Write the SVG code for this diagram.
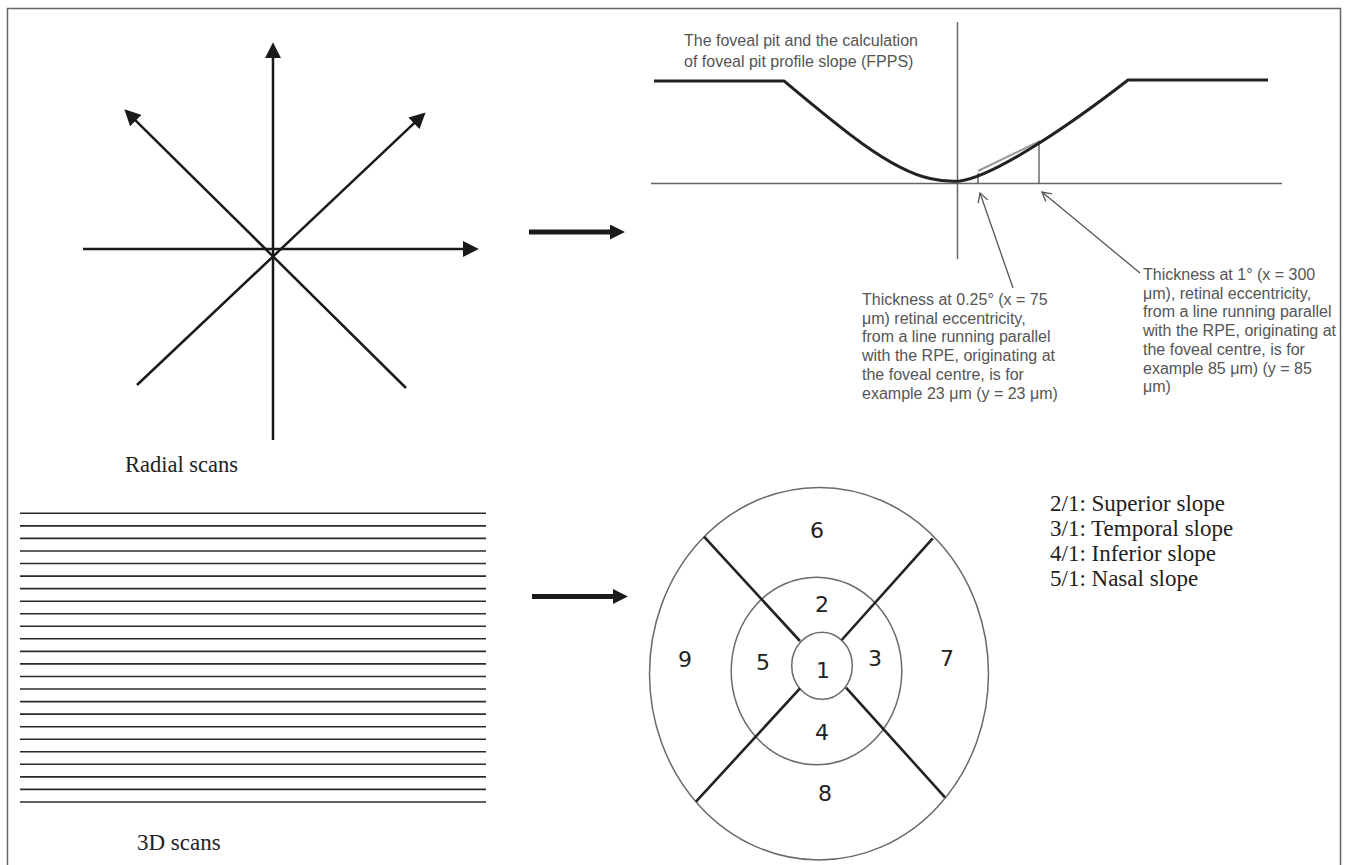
<svg xmlns="http://www.w3.org/2000/svg" width="1346" height="865" viewBox="0 0 1346 865">
<style>
.frame{fill:none;stroke:#666;stroke-width:1.5}
.ray{stroke:#1a1a1a;stroke-width:2.5;fill:none}
.scan{stroke:#2a2a2a;stroke-width:1.6}
.big{stroke:#1a1a1a;stroke-width:5;fill:none}
.axis{stroke:#666;stroke-width:1.5;fill:none}
.curve{stroke:#222;stroke-width:3;fill:none;stroke-linejoin:round}
.thin{stroke:#555;stroke-width:1.3;fill:none}
.ring{stroke:#6a6a6a;stroke-width:1.5;fill:none}
.div{stroke:#222;stroke-width:2.6}
.serif{font-family:"Liberation Serif","Times New Roman",serif;fill:#222}
.sans{font-family:"Liberation Sans",Arial,sans-serif;font-size:16px;fill:#555}
.num{font-family:"DejaVu Sans","Liberation Sans",sans-serif;font-size:22px;fill:#222;text-anchor:middle}
</style>
<defs>
<marker id="tri" markerUnits="userSpaceOnUse" markerWidth="16" markerHeight="16" viewBox="0 0 15 15" refX="2" refY="7.5" orient="auto">
<path d="M0,0 L15,7.5 L0,15 z" fill="#1a1a1a"/>
</marker>
<marker id="bigtri" markerUnits="userSpaceOnUse" markerWidth="15" markerHeight="15" viewBox="0 0 14 14" refX="1" refY="7" orient="auto">
<path d="M0,0 L14,7 L0,14 z" fill="#1a1a1a"/>
</marker>
<marker id="open" markerUnits="userSpaceOnUse" markerWidth="12" markerHeight="14" viewBox="-1 -7 12 14" refX="0" refY="0" orient="auto">
<path d="M9,-5 L0,0 L9,5" fill="none" stroke="#555" stroke-width="1.3"/>
</marker>
</defs>

<path class="frame" d="M7.5,865 L7.5,8.5 L1340.5,8.5 L1340.5,865"/>

<g id="radial-scans">
<line class="ray" x1="273" y1="440" x2="273" y2="56" marker-end="url(#tri)"/>
<line class="ray" x1="83" y1="249" x2="465" y2="249" marker-end="url(#tri)"/>
<line class="ray" x1="406" y1="388" x2="134.2" y2="119.1" marker-end="url(#tri)"/>
<line class="ray" x1="137" y1="385" x2="415.5" y2="121.9" marker-end="url(#tri)"/>
<text class="serif" x="125" y="472" font-size="22.5">Radial scans</text>
</g>

<g id="3d-scans">
<g class="scan">
<line x1="20" y1="513.3" x2="486" y2="513.3"/>
<line x1="20" y1="525.9" x2="486" y2="525.9"/>
<line x1="20" y1="538.4" x2="486" y2="538.4"/>
<line x1="20" y1="551" x2="486" y2="551"/>
<line x1="20" y1="563.5" x2="486" y2="563.5"/>
<line x1="20" y1="576.1" x2="486" y2="576.1"/>
<line x1="20" y1="588.6" x2="486" y2="588.6"/>
<line x1="20" y1="601.2" x2="486" y2="601.2"/>
<line x1="20" y1="613.7" x2="486" y2="613.7"/>
<line x1="20" y1="626.3" x2="486" y2="626.3"/>
<line x1="20" y1="638.8" x2="486" y2="638.8"/>
<line x1="20" y1="651.4" x2="486" y2="651.4"/>
<line x1="20" y1="663.9" x2="486" y2="663.9"/>
<line x1="20" y1="676.5" x2="486" y2="676.5"/>
<line x1="20" y1="689" x2="486" y2="689"/>
<line x1="20" y1="701.6" x2="486" y2="701.6"/>
<line x1="20" y1="714.1" x2="486" y2="714.1"/>
<line x1="20" y1="726.7" x2="486" y2="726.7"/>
<line x1="20" y1="739.2" x2="486" y2="739.2"/>
<line x1="20" y1="751.8" x2="486" y2="751.8"/>
<line x1="20" y1="764.3" x2="486" y2="764.3"/>
<line x1="20" y1="776.9" x2="486" y2="776.9"/>
<line x1="20" y1="789.4" x2="486" y2="789.4"/>
<line x1="20" y1="802" x2="486" y2="802"/>
</g>
<text class="serif" x="137" y="850" font-size="23">3D scans</text>
</g>

<g id="connectors">
<line class="big" x1="529" y1="232" x2="611" y2="232" marker-end="url(#bigtri)"/>
<line class="big" x1="532" y1="596.5" x2="614" y2="596.5" marker-end="url(#bigtri)"/>
</g>

<g id="fpps-graph">
<text class="sans" x="684" y="46">The foveal pit and the calculation</text>
<text class="sans" x="684" y="66.5">of foveal pit profile slope (FPPS)</text>
<line class="axis" x1="651" y1="183.5" x2="1282" y2="183.5"/>
<line class="axis" x1="957.5" y1="22" x2="957.5" y2="259"/>
<line class="thin" x1="978" y1="183.5" x2="978" y2="173"/>
<line class="thin" x1="1039" y1="183.5" x2="1039" y2="142"/>
<line x1="978" y1="171" x2="1040" y2="141" stroke="#9a9a9a" stroke-width="2"/>
<path class="curve" d="M654,81 L784,81 C840,128 890,170 930,178.5 Q945,182 960,181 C995,176 1070,125 1128,80 L1268,80"/>
<line class="thin" x1="980" y1="193" x2="1013" y2="288" marker-start="url(#open)"/>
<line class="thin" x1="1042" y1="192" x2="1140" y2="273" marker-start="url(#open)"/>
</g>

<g id="note-025">
<text class="sans" x="862" y="305">Thickness at 0.25° (x = 75</text>
<text class="sans" x="862" y="323.7">μm) retinal eccentricity,</text>
<text class="sans" x="862" y="342.4">from a line running parallel</text>
<text class="sans" x="862" y="361.1">with the RPE, originating at</text>
<text class="sans" x="862" y="379.8">the foveal centre, is for</text>
<text class="sans" x="862" y="398.5">example 23 μm (y = 23 μm)</text>
</g>

<g id="note-1deg">
<text class="sans" x="1143" y="280">Thickness at 1° (x = 300</text>
<text class="sans" x="1143" y="298.7">μm), retinal eccentricity,</text>
<text class="sans" x="1143" y="317.4">from a line running parallel</text>
<text class="sans" x="1143" y="336.1">with the RPE, originating at</text>
<text class="sans" x="1143" y="354.8">the foveal centre, is for</text>
<text class="sans" x="1143" y="373.5">example 85 μm) (y = 85</text>
<text class="sans" x="1143" y="392.2">μm)</text>
</g>

<g id="sector-map">
<ellipse class="ring" cx="819" cy="673.7" rx="169.5" ry="186.3"/>
<ellipse class="ring" cx="816.5" cy="671" rx="85.3" ry="93.8"/>
<ellipse class="ring" cx="822" cy="665.8" rx="30.3" ry="33.5"/>
<line class="div" x1="704" y1="536.7" x2="800" y2="641"/>
<line class="div" x1="932.7" y1="538.3" x2="841.7" y2="640"/>
<line class="div" x1="800" y1="688.3" x2="696" y2="801.7"/>
<line class="div" x1="846" y1="687.7" x2="945" y2="797.3"/>
<text class="num" x="817" y="538">6</text>
<text class="num" x="822" y="612">2</text>
<text class="num" x="685" y="667">9</text>
<text class="num" x="763" y="670">5</text>
<text class="num" x="823" y="678">1</text>
<text class="num" x="875" y="666">3</text>
<text class="num" x="947" y="666">7</text>
<text class="num" x="822" y="740">4</text>
<text class="num" x="825" y="801">8</text>
</g>

<g id="legend">
<text class="serif" x="1050" y="511" font-size="23">2/1: Superior slope</text>
<text class="serif" x="1050" y="536" font-size="23">3/1: Temporal slope</text>
<text class="serif" x="1050" y="561" font-size="23">4/1: Inferior slope</text>
<text class="serif" x="1050" y="586" font-size="23">5/1: Nasal slope</text>
</g>
</svg>
